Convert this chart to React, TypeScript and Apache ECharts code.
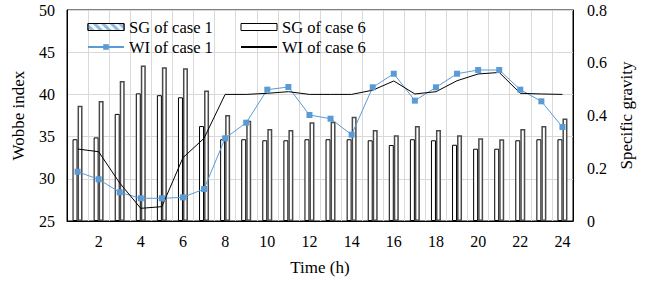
import React, { useEffect, useRef } from "react";
import * as echarts from "echarts";

const hours = ["1","2","3","4","5","6","7","8","9","10","11","12","13","14","15","16","17","18","19","20","21","22","23","24"];
const sgCase1 = [0.31,0.317,0.406,0.484,0.477,0.469,0.36,0.31,0.31,0.306,0.306,0.31,0.31,0.31,0.306,0.288,0.31,0.306,0.289,0.274,0.274,0.306,0.31,0.31];
const sgCase6 = [0.437,0.455,0.531,0.59,0.583,0.579,0.495,0.402,0.38,0.349,0.345,0.374,0.376,0.395,0.345,0.325,0.36,0.345,0.325,0.314,0.31,0.349,0.36,0.389];
const wiCase1 = [30.84,29.94,28.4,27.69,27.69,27.8,28.79,34.8,36.65,40.56,40.88,37.56,37.12,35.23,40.84,42.45,39.26,40.84,42.45,42.89,42.89,40.56,39.18,36.14];
const wiCase6 = [33.53,33.21,29.5,26.5,26.7,32.5,34.8,40.0,40.0,40.13,40.32,40.0,40.0,40.0,40.5,41.59,40.05,40.32,41.62,42.42,42.6,40.13,40.05,40.0];

const FONT = "Liberation Serif";

export default function App() {
  const ref = useRef<HTMLDivElement>(null);
  useEffect(() => {
    document.body.style.margin = "0";
    const chart = echarts.init(ref.current!, null, { renderer: "svg" });
    const textStyle = { fontFamily: FONT, color: "#000", fontSize: 16 };
    const legendText = { ...textStyle, fontSize: 16.5, lineHeight: 18 };
    chart.setOption({
      animation: false,
      textStyle: { fontFamily: FONT },
      grid: { left: 67, right: 81, top: 10, bottom: 62, show: true, borderColor: "#000", borderWidth: 1, backgroundColor: "transparent" },
      legend: [
        {
          left: 82, top: 13, orient: "vertical", itemWidth: 36, itemHeight: 7, itemGap: 2,
          textStyle: legendText,
          data: [
            {
              name: "SG of case 1", icon: "rect",
              itemStyle: {
                color: "#f4f8fc", borderColor: "#000", borderWidth: 1,
                decal: { symbol: "rect", symbolSize: 1, dashArrayX: [1, 0], dashArrayY: [3, 3], rotation: Math.PI / 4, color: "#8fbbe3" },
              },
            },
            { name: "WI of case 1" },
          ],
        },
        {
          left: 235, top: 13, orient: "vertical", itemWidth: 36, itemHeight: 7, itemGap: 2,
          textStyle: legendText,
          data: [
            { name: "SG of case 6", icon: "rect", itemStyle: { color: "#fff", borderColor: "#000", borderWidth: 1 } },
            { name: "WI of case 6", itemStyle: { color: "transparent", borderColor: "transparent", borderWidth: 0, opacity: 0 } },
          ],
        },
      ],
      xAxis: {
        type: "category",
        data: hours,
        name: "Time (h)",
        nameLocation: "middle",
        nameGap: 38,
        nameTextStyle: { ...textStyle, fontSize: 17 },
        axisLine: { lineStyle: { color: "#000" } },
        axisTick: { show: false },
        axisLabel: { ...textStyle, margin: 12, interval: (i: number) => i % 2 === 1 },
        splitLine: { show: true, interval: 0, lineStyle: { color: "#d9d9d9" } },
      },
      yAxis: [
        {
          type: "value", min: 25, max: 50, interval: 5,
          name: "Wobbe index", nameLocation: "middle", nameGap: 40,
          nameTextStyle: { ...textStyle, fontSize: 17 },
          axisLine: { show: true, lineStyle: { color: "#000" } },
          axisTick: { show: false },
          axisLabel: { ...textStyle, margin: 12 },
          splitLine: { lineStyle: { color: "#d9d9d9" } },
        },
        {
          type: "value", min: 0, max: 0.8, interval: 0.2,
          name: "Specific gravity", nameLocation: "middle", nameGap: 42,
          nameTextStyle: { ...textStyle, fontSize: 17 },
          axisLine: { show: true, lineStyle: { color: "#000" } },
          axisTick: { show: false },
          axisLabel: { ...textStyle, margin: 14 },
          splitLine: { show: false },
        },
      ],
      series: [
        {
          name: "SG of case 1", type: "bar", yAxisIndex: 1, data: sgCase1,
          barWidth: 5, barGap: "0%",
          itemStyle: { color: "#fff", borderColor: "#000", borderWidth: 1 },
        },
        {
          name: "SG of case 6", type: "bar", yAxisIndex: 1, data: sgCase6,
          barWidth: 5, barGap: "0%",
          itemStyle: { color: "#fff", borderColor: "#4a4a4a", borderWidth: 1.5 },
        },
        {
          name: "WI of case 1", type: "line", yAxisIndex: 0, data: wiCase1,
          symbol: "rect", symbolSize: 6,
          lineStyle: { color: "#5b9bd5", width: 1 },
          itemStyle: { color: "#5b9bd5" },
        },
        {
          name: "WI of case 6", type: "line", yAxisIndex: 0, data: wiCase6,
          symbol: "none",
          lineStyle: { color: "#000", width: 1 },
          itemStyle: { color: "#000" },
        },
      ],
    });
    return () => chart.dispose();
  }, []);
  return <div ref={ref} style={{ width: 654, height: 283 }} />;
}
